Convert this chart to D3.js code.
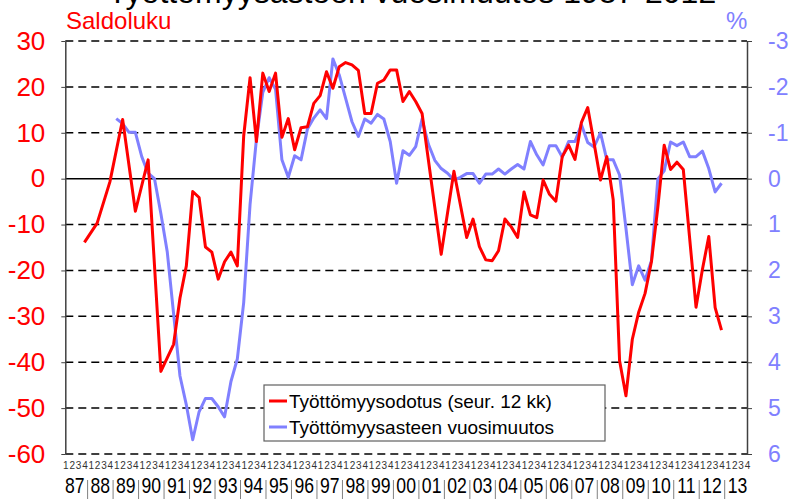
<!DOCTYPE html>
<html>
<head>
  <style>
    body { margin: 0; background: #fff; }
    svg { display: block; font-family: "Liberation Sans", Arial, sans-serif; }
  </style>
</head>
<body>
  <script src="https://d3js.org/d3.v7.min.js"></script>
  <script>
    // years on the category axis, four quarters each
    const years = ['87','88','89','90','91','92','93','94','95','96','97','98','99',
                   '00','01','02','03','04','05','06','07','08','09','10','11','12','13'];
    const quarterLabels = ['1','2','3','4'];

    // Työttömyysodotus (saldoluku), one value per quarter from 1987 Q1, null = no point
    const odotus = [
      null, null, null, -13.9, null, -9.7, null, -0.7,            // 87-88
      null, 12.9, null, -7.1, null, 4.1, null, -42.0,             // 89-90
      null, -36.1, -26.0, -19.0, -2.8, -4.1, -14.9, -16.0,        // 91-92
      -21.9, -18.1, -16.0, -19.0, 9.3, 22.0, 8.1, 23.0,           // 93-94
      19.0, 23.0, 9.0, 13.1, 6.3, 11.1, 11.3, 16.4,               // 95-96
      18.1, 23.3, 19.7, 24.4, 25.3, 24.8, 23.6, 14.2,             // 97-98
      14.2, 20.8, 21.5, 23.7, 23.7, 16.8, 19.0, 16.8,             // 99-00
      14.2, null, null, -16.5, null, 1.6, null, -12.8,            // 01-02
      -8.8, -14.8, -17.7, -17.9, -15.7, -8.8, -10.5, -12.8,       // 03-04
      -2.9, -7.9, -8.5, -0.3, -3.4, -4.9, 4.8, 7.3,               // 05-06
      4.2, 12.2, 15.5, 7.7, -0.3, 4.8, -4.6, -39.7,               // 07-08
      -47.3, -35.0, -29.1, -25.0, -18.1, -6.3, 7.3, 2.0,          // 09-10
      3.6, 2.0, null, -28.0, -19.8, -12.6, -28.1, -33.0,          // 11-12
      null, null, null, null                                      // 13
    ];

    // Työttömyysasteen vuosimuutos (%-yks.), right axis, reversed
    const vuosimuutos = [
      null, null, null, null, null, null, null, null,
      -1.31, -1.20, -1.01, -1.01, -0.48, -0.12, 0.00, 0.76,
      1.59, null, 4.30, 4.93, 5.69, 5.08, 4.79, 4.79,
      4.97, 5.19, 4.42, 3.93, 2.70, 0.56, -0.86, -1.88,
      -2.20, -1.95, -0.41, -0.03, -0.50, -0.41, -1.08, -1.32,
      -1.50, -1.31, -2.61, -2.26, -1.75, -1.24, -0.92, -1.30,
      -1.21, -1.40, -1.30, -0.81, 0.10, -0.61, -0.51, -0.70,
      -1.30, -0.75, -0.40, -0.22, -0.12, 0.03, -0.03, -0.11,
      -0.11, 0.10, -0.10, -0.10, -0.21, -0.10, -0.21, -0.31,
      -0.21, -0.81, -0.52, -0.30, -0.72, -0.72, -0.47, -0.81,
      -0.81, -1.18, -0.79, -0.69, -1.00, -0.41, -0.41, -0.08,
      1.08, 2.31, 1.90, 2.21, 1.79, 0.01, -0.17, -0.80,
      -0.72, -0.80, -0.48, -0.48, -0.60, -0.22, 0.29, 0.10,
      null, null, null, null
    ];

    const leftTicks = [30, 20, 10, 0, -10, -20, -30, -40, -50, -60];
    const rightTicks = [-3, -2, -1, 0, 1, 2, 3, 4, 5, 6];

    const width = 790, height = 499;
    const plot = { left: 65.3, right: 747, top: 41, bottom: 454 };
    const red = '#ff0000', blue = '#8080ff';
    const font = '"Liberation Sans", Arial, sans-serif';

    const svg = d3.select('body').append('svg')
      .attr('width', width)
      .attr('height', height);

    const quarters = d3.range(years.length * 4);

    const x = d3.scalePoint()
      .domain(quarters)
      .range([plot.left, plot.right]);
    const step = x.step();

    const yL = d3.scaleLinear().domain([-60, 30]).range([plot.bottom, plot.top]);
    const yR = d3.scaleLinear().domain([6, -3]).range([plot.bottom, plot.top]);

    const yearBand = d3.scaleBand()
      .domain(years)
      .range([plot.left - step / 2, plot.right + step / 2]);

    // title, cut off at top as in the source picture
    svg.append('text')
      .attr('x', 412).attr('y', 3)
      .attr('text-anchor', 'middle')
      .style('font-size', '32px')
      .text('Työttömyysasteen vuosimuutos 1987-2012');

    svg.append('text')
      .attr('x', 66).attr('y', 29)
      .attr('fill', red)
      .style('font-size', '24px')
      .text('Saldoluku');

    svg.append('text')
      .attr('x', 726).attr('y', 29)
      .attr('fill', blue)
      .style('font-size', '24px')
      .text('%');

    // gridlines
    svg.append('g')
      .selectAll('line')
      .data(leftTicks)
      .join('line')
      .attr('x1', plot.left).attr('x2', plot.right)
      .attr('y1', d => yL(d)).attr('y2', d => yL(d))
      .attr('stroke', '#000')
      .attr('stroke-width', 1.5)
      .attr('stroke-dasharray', d => d === 0 ? null : '8,5');

    // left axis
    const axL = svg.append('g')
      .attr('transform', `translate(${plot.left},0)`)
      .call(d3.axisLeft(yL).tickValues(leftTicks).tickSize(4).tickSizeOuter(0)
        .tickPadding(16).tickFormat(d => String(d)));
    axL.select('.domain').attr('stroke', '#404040').attr('stroke-width', 1.5);
    axL.selectAll('.tick line').attr('stroke', '#404040');
    axL.selectAll('text')
      .attr('fill', red)
      .style('font-size', '26px')
      .style('font-family', font);

    // right axis
    const axR = svg.append('g')
      .attr('transform', `translate(${plot.right},0)`)
      .call(d3.axisRight(yR).tickValues(rightTicks).tickSize(5).tickSizeOuter(0)
        .tickPadding(16).tickFormat(d => String(d)));
    axR.select('.domain').attr('stroke', '#404040').attr('stroke-width', 1.5);
    axR.selectAll('.tick line').attr('stroke', '#404040');
    axR.selectAll('text')
      .attr('fill', blue)
      .style('font-size', '23px')
      .style('font-family', font);

    // quarter digits and year labels
    const axQ = svg.append('g')
      .attr('transform', `translate(0,${462})`)
      .call(d3.axisBottom(x).tickSize(0).tickPadding(0).tickFormat(i => quarterLabels[i % 4]));
    axQ.select('.domain').remove();
    axQ.selectAll('text')
      .attr('fill', '#333')
      .style('font-size', '10px')
      .style('font-family', font);

    const axY = svg.append('g')
      .attr('transform', `translate(0,${477})`)
      .call(d3.axisBottom(yearBand).tickSize(0).tickPadding(0));
    axY.select('.domain').remove();
    axY.selectAll('text')
      .attr('fill', '#000')
      .attr('transform', 'scale(0.8,1)')
      .style('font-size', '22px')
      .style('font-family', font);

    svg.append('g')
      .selectAll('line')
      .data(years.slice(1))
      .join('line')
      .attr('x1', d => yearBand(d)).attr('x2', d => yearBand(d))
      .attr('y1', 480).attr('y2', 499)
      .attr('stroke', '#808080')
      .attr('stroke-width', 1);

    // series
    const lineL = d3.line()
      .x(d => x(d.i))
      .y(d => yL(d.v));
    const lineR = d3.line()
      .x(d => x(d.i))
      .y(d => yR(d.v));

    const toPoints = arr => arr.map((v, i) => ({ i, v })).filter(d => d.v !== null);

    svg.append('path')
      .datum(toPoints(vuosimuutos))
      .attr('d', lineR)
      .attr('fill', 'none')
      .attr('stroke', blue)
      .attr('stroke-width', 3)
      .attr('stroke-linejoin', 'round');

    svg.append('path')
      .datum(toPoints(odotus))
      .attr('d', lineL)
      .attr('fill', 'none')
      .attr('stroke', red)
      .attr('stroke-width', 3)
      .attr('stroke-linejoin', 'round');

    // legend
    const legend = svg.append('g').attr('transform', 'translate(264,385)');
    legend.append('rect')
      .attr('width', 341).attr('height', 56)
      .attr('fill', '#fff')
      .attr('stroke', '#606060')
      .attr('stroke-width', 1.2);

    const items = [
      { label: 'Työttömyysodotus (seur. 12 kk)', color: red },
      { label: 'Työttömyysasteen vuosimuutos', color: blue }
    ];
    const row = legend.selectAll('g.item')
      .data(items)
      .join('g')
      .attr('class', 'item')
      .attr('transform', (d, i) => `translate(0,${16 + i * 26})`);
    row.append('line')
      .attr('x1', 5).attr('x2', 23)
      .attr('stroke', d => d.color)
      .attr('stroke-width', 3);
    row.append('text')
      .attr('x', 25).attr('y', 7)
      .style('font-size', '19px')
      .text(d => d.label);
  </script>
</body>
</html>
